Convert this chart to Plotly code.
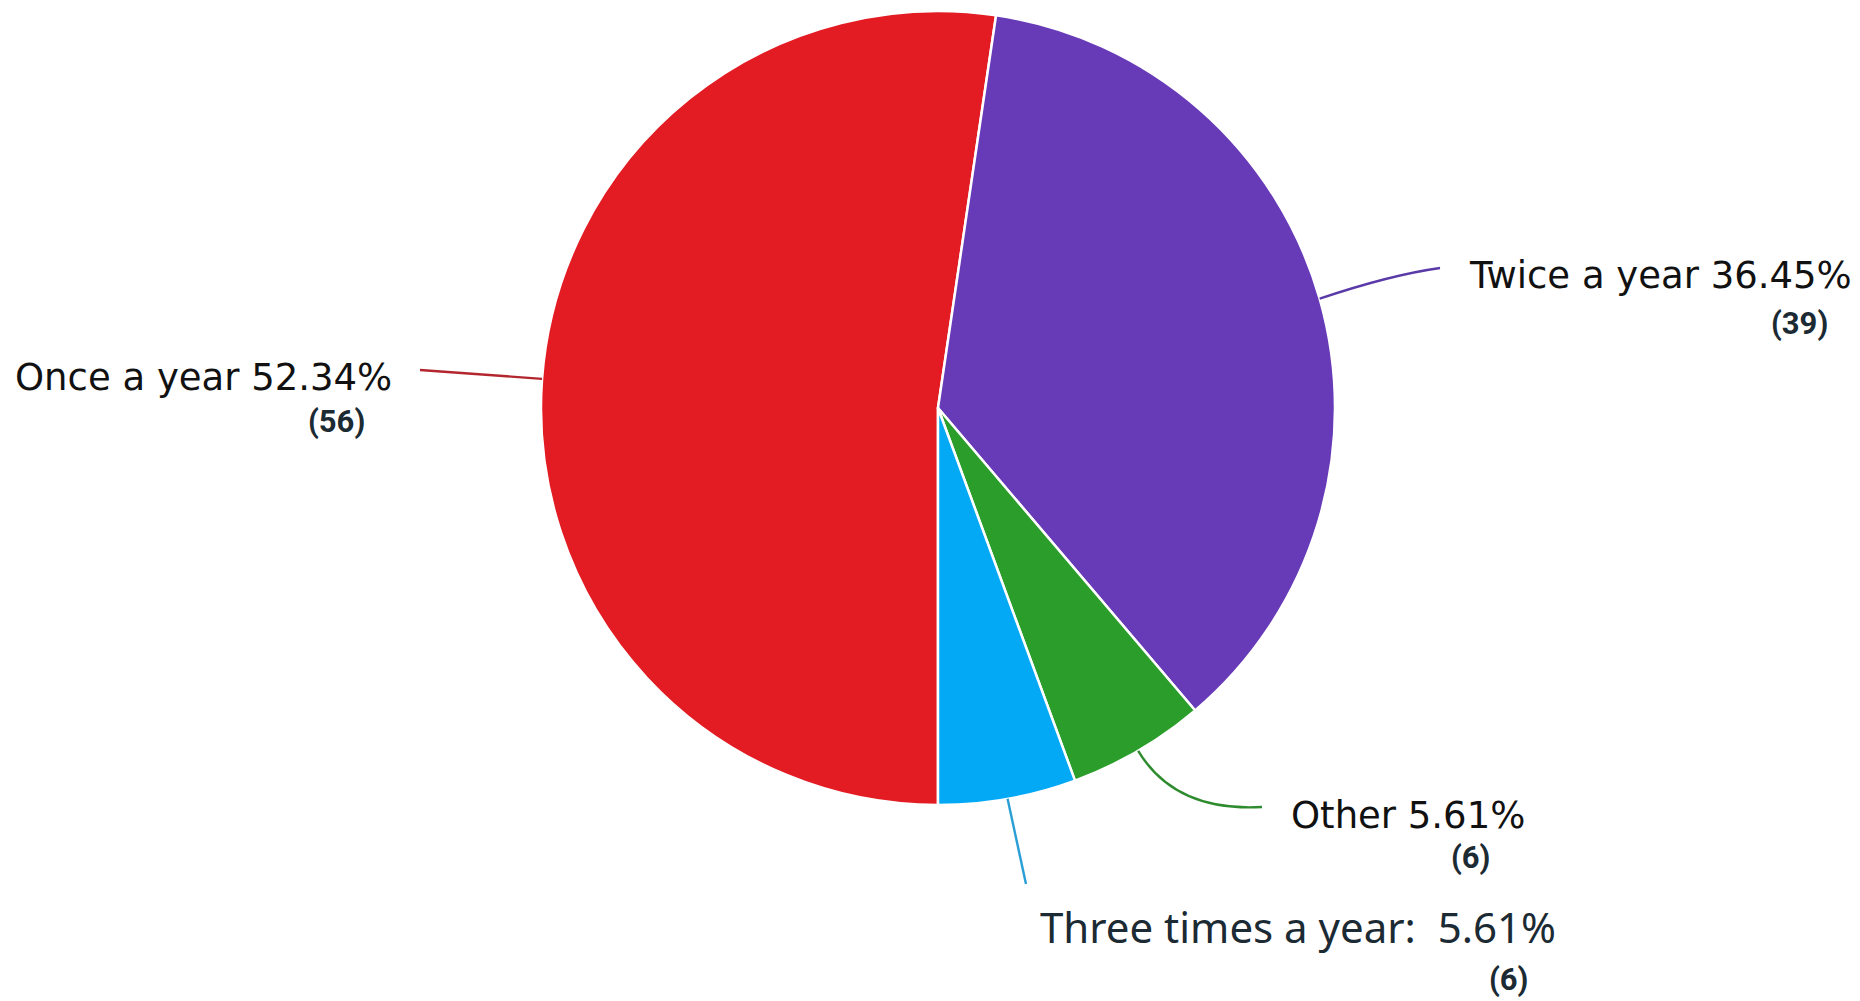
import math
import plotly.graph_objects as go

# ---- data ----
categories = ["Once a year", "Twice a year", "Other", "Three times a year"]
counts = [56, 39, 6, 6]
colors = ["#e31b23", "#673ab7", "#2a9d2a", "#03a9f4"]
label_texts = ["Once a year 52.34%", "Twice a year 36.45%", "Other 5.61%",
               "Three times a year:\u00a0\u00a05.61%"]
count_texts = ["(56)", "(39)", "(6)", "(6)"]

W, H = 1860, 1001
CX, CY, R = 938, 408, 397
ROT = 180  # first slice starts at 6 o'clock, clockwise

def px(x):
    return x / W

def py(y):
    return 1 - y / H

fig = go.Figure()
fig.add_trace(go.Pie(
    labels=categories, values=counts, sort=False, direction="clockwise",
    rotation=ROT, marker=dict(colors=colors, line=dict(color="white", width=2.5)),
    textinfo="none", hoverinfo="label+value+percent", showlegend=False,
    domain=dict(x=[px(CX - R), px(CX + R)], y=[py(CY + R), py(CY - R)]),
))

# mid-angle of each slice (clockwise from 12 o'clock)
total = sum(counts)
mids = []
acc = ROT
for v in counts:
    span = v / total * 360
    mids.append(acc + span / 2)
    acc += span

def edge(i):
    a = math.radians(mids[i])
    return CX + R * math.sin(a), CY - R * math.cos(a)

# label anchor positions (pixels) - layout
label_pos = [(13, 377, "left"), (1467, 275, "left"), (1289, 815, "left"), (1038, 926, "left")]
count_pos = [(336, 421), (1799, 323), (1471, 857), (1509, 979)]
label_fonts = [dict(family="DejaVu Sans", size=37, color="#111111")] * 3 + \
              [dict(family="Noto Sans", size=42, color="#1b2a33")]

# leader lines
line_ends = [(420, 370), (1440, 268), (1262, 807), (1026, 884)]
ctrl = [None, (1390, 275), (1175, 812), None]
line_colors = ["#b3262e", "#5a3aa8", "#2e8b2e", "#2a9fd6"]
shapes = []
for i in range(4):
    x0, y0 = edge(i)
    x1, y1 = line_ends[i]
    if ctrl[i] is None:
        path = f"M {px(x0)},{py(y0)} L {px(x1)},{py(y1)}"
    else:
        cx, cy = ctrl[i]
        path = f"M {px(x0)},{py(y0)} Q {px(cx)},{py(cy)} {px(x1)},{py(y1)}"
    shapes.append(dict(type="path", xref="paper", yref="paper", path=path,
                       line=dict(color=line_colors[i], width=2.4)))

annotations = []
for i in range(4):
    x, y, anc = label_pos[i]
    annotations.append(dict(text=label_texts[i], x=px(x), y=py(y), xref="paper", yref="paper",
                            xanchor=anc, yanchor="middle", showarrow=False, font=label_fonts[i]))
    cxp, cyp = count_pos[i]
    annotations.append(dict(text=count_texts[i], x=px(cxp), y=py(cyp), xref="paper",
                            yref="paper", xanchor="center", yanchor="middle", showarrow=False,
                            font=dict(family="Roboto", size=31, color="#1b2a33", weight=700)))

fig.update_layout(width=W, height=H, margin=dict(l=0, r=0, t=0, b=0),
                  paper_bgcolor="white", plot_bgcolor="white",
                  shapes=shapes, annotations=annotations)
fig.write_html("out.html")
